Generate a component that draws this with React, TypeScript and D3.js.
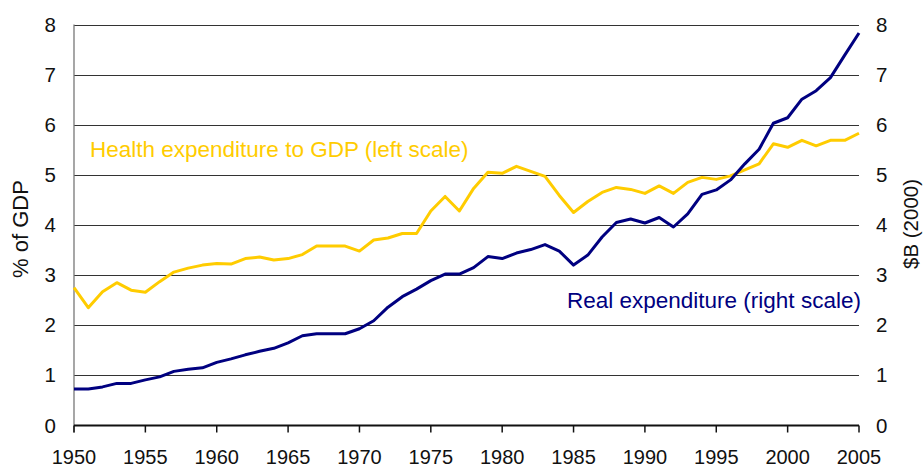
import React, { useEffect, useRef } from "react";
import * as d3 from "d3";

const years: number[] = d3.range(1950, 2006);
const healthPctGDP: number[] = [
  2.75, 2.35, 2.67, 2.85, 2.70, 2.66, 2.87, 3.06, 3.14, 3.20,
  3.23, 3.22, 3.33, 3.36, 3.30, 3.33, 3.41, 3.58, 3.58, 3.58,
  3.48, 3.70, 3.74, 3.83, 3.83, 4.28, 4.57, 4.28, 4.73, 5.05,
  5.03, 5.17, 5.07, 4.97, 4.59, 4.25, 4.47, 4.65, 4.75, 4.71,
  4.63, 4.78, 4.63, 4.85, 4.95, 4.91, 4.98, 5.10, 5.22, 5.62,
  5.55, 5.69, 5.58, 5.69, 5.69, 5.83,
];
const realExpenditure: number[] = [
  0.73, 0.73, 0.77, 0.84, 0.84, 0.91, 0.97, 1.08, 1.12, 1.15,
  1.26, 1.33, 1.41, 1.48, 1.54, 1.65, 1.79, 1.83, 1.83, 1.83,
  1.93, 2.09, 2.36, 2.57, 2.72, 2.89, 3.02, 3.02, 3.15, 3.37,
  3.33, 3.44, 3.51, 3.61, 3.48, 3.20, 3.40, 3.76, 4.05, 4.12,
  4.04, 4.15, 3.96, 4.22, 4.61, 4.70, 4.90, 5.22, 5.51, 6.03,
  6.14, 6.51, 6.68, 6.94, 7.39, 7.83,
];
const yTicks: number[] = [0, 1, 2, 3, 4, 5, 6, 7, 8];
const xTicks: number[] = d3.range(1950, 2006, 5);

const W = 923, H = 468;
const left = 74, right = 859, top = 24.5, bottom = 425.5;
const FONT = "'Liberation Sans', Arial, sans-serif";

export default function App() {
  const ref = useRef<SVGSVGElement>(null);
  useEffect(() => {
    const svg = d3.select(ref.current);
    svg.selectAll("*").remove();
    const x = d3.scaleLinear().domain([1950, 2005]).range([left, right]);
    const yL = d3.scaleLinear().domain([0, 8]).range([bottom, top]);
    const yR = d3.scaleLinear().domain([0, 8]).range([bottom, top]);

    // gridlines
    svg.append("g").selectAll("line").data(yTicks.filter(d => d > 0)).join("line")
      .attr("x1", left).attr("x2", right)
      .attr("y1", d => Math.round(yL(d)) + 0.5).attr("y2", d => Math.round(yL(d)) + 0.5)
      .attr("stroke", "#333").attr("stroke-width", 1);

    // left axis line
    svg.append("line").attr("x1", left).attr("x2", left).attr("y1", top).attr("y2", bottom + 7)
      .attr("stroke", "#777").attr("stroke-width", 1.3);
    // x axis
    svg.append("line").attr("x1", left).attr("x2", right).attr("y1", bottom).attr("y2", bottom)
      .attr("stroke", "#111").attr("stroke-width", 2);
    svg.append("g").selectAll("line").data(xTicks).join("line")
      .attr("x1", d => x(d)).attr("x2", d => x(d)).attr("y1", bottom).attr("y2", bottom + 7)
      .attr("stroke", "#111").attr("stroke-width", 1.5);

    const line = (ys: number[], sc: d3.ScaleLinear<number, number>) =>
      d3.line<number>().x((_, i) => x(years[i])).y(d => sc(d))(ys);

    svg.append("path").attr("d", line(healthPctGDP, yL)!).attr("fill", "none")
      .attr("stroke", "#FFCC00").attr("stroke-width", 3).attr("stroke-linejoin", "round");
    svg.append("path").attr("d", line(realExpenditure, yR)!).attr("fill", "none")
      .attr("stroke", "#000080").attr("stroke-width", 3).attr("stroke-linejoin", "round");

    const txt = (g: any) => g.attr("font-family", FONT).attr("fill", "#111");
    // left tick labels
    svg.append("g").selectAll("text").data(yTicks).join("text")
      .call(txt).attr("x", 56).attr("y", d => yL(d) + 7).attr("text-anchor", "end")
      .attr("font-size", 20.5).text(d => String(d));
    // right tick labels
    svg.append("g").selectAll("text").data(yTicks).join("text")
      .call(txt).attr("x", 876).attr("y", d => yR(d) + 7).attr("text-anchor", "start")
      .attr("font-size", 20.5).text(d => String(d));
    // x tick labels
    svg.append("g").selectAll("text").data(xTicks).join("text")
      .call(txt).attr("x", d => x(d)).attr("y", 463.5).attr("text-anchor", "middle")
      .attr("font-size", 20).text(d => String(d));

    svg.append("text").call(txt).attr("font-size", 22).attr("text-anchor", "middle")
      .attr("transform", `translate(28,229) rotate(-90)`).text("% of GDP");
    svg.append("text").call(txt).attr("font-size", 20.5).attr("text-anchor", "middle")
      .attr("transform", `translate(918,224) rotate(-90)`).text("$B (2000)");

    svg.append("text").attr("font-family", FONT).attr("fill", "#FFCC00").attr("font-size", 22.5)
      .attr("x", 90).attr("y", 157).text("Health expenditure to GDP (left scale)");
    svg.append("text").attr("font-family", FONT).attr("fill", "#000080").attr("font-size", 22.5)
      .attr("x", 567).attr("y", 307.5).text("Real expenditure (right scale)");
  }, []);
  return (
    <svg ref={ref} width={W} height={H} style={{ position: "absolute", left: 0, top: 0, background: "#fff" }} />
  );
}
